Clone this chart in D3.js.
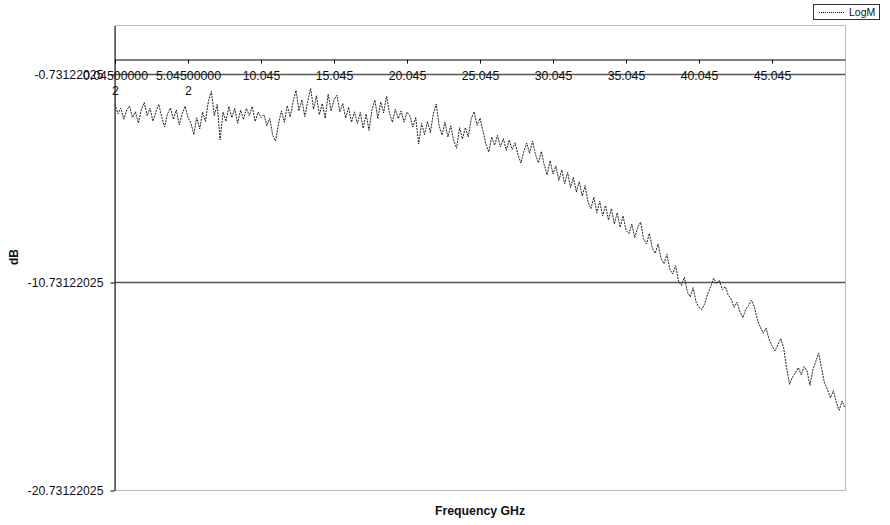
<!DOCTYPE html>
<html>
<head>
<meta charset="utf-8">
<script src="https://cdn.jsdelivr.net/npm/d3@7/dist/d3.min.js"></script>
<style>
body { margin: 0; background: #fff; }
text { font-family: "Liberation Sans", Arial, sans-serif; fill: #111; }
</style>
</head>
<body>
<svg class="chart" width="890" height="525"></svg>
<script>
// sweep frequencies (GHz)
var freqs = [
0.045,0.245,0.445,0.645,0.845,1.045,1.245,1.445,1.645,1.845,
2.045,2.245,2.445,2.645,2.845,3.045,3.245,3.445,3.645,3.845,
4.045,4.245,4.445,4.645,4.845,5.045,5.245,5.445,5.645,5.845,
6.045,6.245,6.445,6.645,6.845,7.045,7.245,7.445,7.645,7.845,
8.045,8.245,8.445,8.645,8.845,9.045,9.245,9.445,9.645,9.845,
10.045,10.245,10.445,10.645,10.845,11.045,11.245,11.445,11.645,11.845,
12.045,12.245,12.445,12.645,12.845,13.045,13.245,13.445,13.645,13.845,
14.045,14.245,14.445,14.645,14.845,15.045,15.245,15.445,15.645,15.845,
16.045,16.245,16.445,16.645,16.845,17.045,17.245,17.445,17.645,17.845,
18.045,18.245,18.445,18.645,18.845,19.045,19.245,19.445,19.645,19.845,
20.045,20.245,20.445,20.645,20.845,21.045,21.245,21.445,21.645,21.845,
22.045,22.245,22.445,22.645,22.845,23.045,23.245,23.445,23.645,23.845,
24.045,24.245,24.445,24.645,24.845,25.045,25.245,25.445,25.645,25.845,
26.045,26.245,26.445,26.645,26.845,27.045,27.245,27.445,27.645,27.845,
28.045,28.245,28.445,28.645,28.845,29.045,29.245,29.445,29.645,29.845,
30.045,30.245,30.445,30.645,30.845,31.045,31.245,31.445,31.645,31.845,
32.045,32.245,32.445,32.645,32.845,33.045,33.245,33.445,33.645,33.845,
34.045,34.245,34.445,34.645,34.845,35.045,35.245,35.445,35.645,35.845,
36.045,36.245,36.445,36.645,36.845,37.045,37.245,37.445,37.645,37.845,
38.045,38.245,38.445,38.645,38.845,39.045,39.245,39.445,39.645,39.845,
40.045,40.245,40.445,40.645,40.845,41.045,41.245,41.445,41.645,41.845,
42.045,42.245,42.445,42.645,42.845,43.045,43.245,43.445,43.645,43.845,
44.045,44.245,44.445,44.645,44.845,45.045,45.245,45.445,45.645,45.845,
46.045,46.245,46.445,46.645,46.845,47.045,47.245,47.445,47.645,47.845,
48.045,48.245,48.445,48.645,48.845,49.045,49.245,49.445,49.645,49.845,
50.045
];

// LogM trace (dB)
var logM = [
-2.19,-2.64,-2.37,-2.91,-2.46,-2.28,-2.82,-2.55,-3.09,-2.46,
-2.10,-2.73,-2.37,-3.00,-2.55,-2.19,-2.82,-3.27,-2.64,-2.37,
-2.91,-2.46,-3.18,-2.64,-2.28,-2.82,-3.10,-3.64,-2.83,-3.37,
-2.56,-3.01,-2.02,-1.57,-2.74,-2.20,-3.90,-2.56,-3.01,-2.29,
-2.83,-2.38,-3.10,-2.47,-2.92,-2.38,-2.74,-2.29,-3.01,-2.56,
-2.83,-2.68,-3.22,-2.86,-3.67,-3.95,-3.13,-2.50,-3.05,-2.25,
-2.80,-2.05,-1.52,-2.51,-1.97,-2.78,-2.06,-1.42,-2.42,-1.78,
-2.69,-2.15,-2.87,-1.70,-2.51,-1.97,-1.75,-2.55,-2.15,-2.85,
-2.33,-3.05,-2.55,-3.12,-2.58,-3.35,-2.65,-3.45,-2.45,-1.98,
-2.88,-2.08,-2.60,-1.80,-2.62,-3.05,-2.42,-2.87,-2.51,-3.05,
-2.56,-2.74,-3.28,-2.83,-4.10,-3.10,-3.64,-3.01,-3.55,-2.65,
-2.17,-3.22,-3.67,-3.04,-3.76,-3.22,-3.94,-4.30,-3.31,-3.85,
-3.31,-3.76,-2.86,-2.55,-3.20,-2.85,-3.46,-4.10,-4.48,-3.76,
-4.16,-3.68,-4.24,-3.84,-4.40,-3.90,-4.36,-4.04,-4.61,-5.01,
-4.45,-4.05,-4.55,-3.95,-4.60,-5.00,-4.45,-5.10,-5.58,-4.90,
-5.54,-5.15,-5.85,-5.35,-6.00,-5.45,-6.20,-5.70,-6.40,-5.90,
-6.60,-6.10,-6.90,-7.20,-6.65,-7.40,-6.85,-7.55,-7.05,-7.75,
-7.20,-7.95,-7.40,-8.10,-7.55,-8.25,-8.40,-7.95,-8.60,-8.10,
-7.85,-8.65,-8.90,-8.40,-9.10,-9.35,-8.90,-9.60,-9.85,-9.40,
-10.10,-10.35,-9.95,-10.70,-10.90,-10.50,-11.20,-11.45,-11.00,-11.70,
-11.95,-12.05,-11.75,-11.30,-10.95,-10.55,-10.80,-10.65,-11.10,-10.95,
-11.35,-11.55,-11.95,-11.70,-12.15,-12.45,-12.05,-11.85,-11.60,-11.95,
-12.55,-12.90,-13.20,-12.95,-13.50,-13.80,-14.05,-13.75,-13.45,-13.90,
-14.85,-15.65,-15.30,-15.10,-14.85,-15.20,-14.80,-15.00,-15.70,-14.95,
-14.55,-14.15,-14.90,-15.60,-15.90,-16.30,-15.95,-16.50,-16.90,-16.45,
-16.80
];

var xTickValues = [0.045,5.045,10.045,15.045,20.045,25.045,30.045,35.045,40.045,45.045];
var xTickLabels = ["0.045000002","5.045000002","10.045","15.045","20.045","25.045","30.045","35.045","40.045","45.045"];
var yTickValues = [-20.73122025,-10.73122025,-0.73122025];
var yTickLabels = ["-20.73122025","-10.73122025","-0.73122025"];
var seriesName = "LogM";

var plotLeft = 115, plotRight = 845, plotTop = 25, plotBottom = 490;

var svg = d3.select(".chart");

var xScale = d3.scaleLinear()
.domain([0.045, 50.045])
.range([plotLeft, plotRight]);

var yScale = d3.scaleLinear()
.domain([-20.73122025, 1.625])
.range([plotBottom, plotTop]);

//plot area border (dotted)
svg.append("rect")
.attr("x", plotLeft + 0.5)
.attr("y", plotTop + 0.5)
.attr("width", plotRight - plotLeft)
.attr("height", plotBottom - plotTop)
.attr("fill", "none")
.attr("stroke", "#777")
.attr("stroke-dasharray", "1,1");

//gridlines, not at the minimum
svg.append("g")
.selectAll("line")
.data(yTickValues.slice(1))
.enter()
.append("line")
.attr("x1", plotLeft)
.attr("x2", plotRight)
.attr("y1", d => Math.round(yScale(d)) + 0.5)
.attr("y2", d => Math.round(yScale(d)) + 0.5)
.attr("stroke", "#555")
.attr("stroke-width", 1.3);

//y axis
var yAxis = d3.axisLeft(yScale)
.tickValues(yTickValues)
.tickSize(4)
.tickSizeOuter(0)
.tickPadding(7)
.tickFormat((d, i) => yTickLabels[i]);

var yG = svg.append("g")
.attr("transform", "translate(" + (plotLeft - 0.5) + ",0.5)")
.call(yAxis);
yG.select(".domain").attr("stroke", "#000");
yG.selectAll(".tick line").attr("stroke", "#000");
yG.selectAll("text")
.style("font-size", "12.3px")
.style("font-family", "'Liberation Sans', Arial, sans-serif")
.attr("fill", "#222");

//x axis crosses at 0 dB
var xAxis = d3.axisBottom(xScale)
.tickValues(xTickValues)
.tickSize(4)
.tickSizeOuter(0)
.tickFormat("");

var xG = svg.append("g")
.attr("transform", "translate(0," + (Math.round(yScale(0)) + 0.5) + ")")
.call(xAxis);
xG.select(".domain").attr("stroke", "#000");
xG.selectAll(".tick line").attr("stroke", "#000");

//tick labels, long ones wrap after 10 characters like Excel does
xG.selectAll(".tick")
.append("text")
.attr("text-anchor", "middle")
.style("font-size", "12.3px")
.style("font-family", "'Liberation Sans', Arial, sans-serif")
.attr("fill", "#222")
.each(function(d, i) {
    var label = xTickLabels[i];
    var t = d3.select(this);
    if (label.length > 10) {
        t.append("tspan").attr("x", 0).attr("y", 20.5).text(label.substring(0, 10));
        t.append("tspan").attr("x", 0).attr("y", 35.5).text(label.substring(10));
    } else {
        t.append("tspan").attr("x", 0).attr("y", 20.5).text(label);
    }
});

//the trace
var line = d3.line()
.x((d, i) => xScale(freqs[i]))
.y(d => yScale(d));

svg.append("path")
.datum(logM)
.attr("d", line)
.attr("fill", "none")
.attr("stroke", "#222")
.attr("stroke-width", 1)
.attr("stroke-dasharray", "2,1");

//axis titles
svg.append("text")
.attr("transform", "translate(18,257) rotate(-90)")
.attr("text-anchor", "middle")
.style("font-size", "12px")
.style("font-weight", "bold")
.text("dB");

svg.append("text")
.attr("x", 480)
.attr("y", 515)
.attr("text-anchor", "middle")
.style("font-size", "12.3px")
.style("font-weight", "bold")
.text("Frequency GHz");

//legend
var legend = svg.append("g");
legend.append("rect")
.attr("x", 813.5)
.attr("y", 4.5)
.attr("width", 66)
.attr("height", 15)
.attr("fill", "#fff")
.attr("stroke", "#333");
legend.append("line")
.attr("x1", 819)
.attr("x2", 845)
.attr("y1", 12.5)
.attr("y2", 12.5)
.attr("stroke", "#111")
.attr("stroke-dasharray", "1,1");
legend.append("text")
.attr("x", 849)
.attr("y", 16)
.style("font-size", "10.5px")
.text(seriesName);
</script>
</body>
</html>
